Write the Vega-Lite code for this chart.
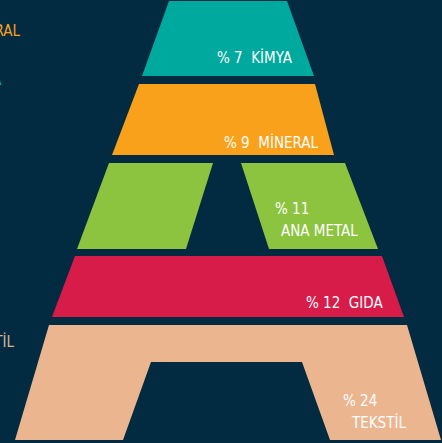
{
  "$schema": "https://vega.github.io/schema/vega-lite/v6.json",
  "width": 442,
  "height": 443,
  "autosize": "none",
  "padding": 0,
  "background": "#022b41",
  "config": {"view": {"stroke": null}},
  "resolve": {"scale": {"color": "independent"}},
  "datasets": {
    "shapes": [
      {"shape": "kimya", "o": 1, "x": 169, "y": 1},
      {"shape": "kimya", "o": 2, "x": 287, "y": 1},
      {"shape": "kimya", "o": 3, "x": 314, "y": 76},
      {"shape": "kimya", "o": 4, "x": 142, "y": 76},
      {"shape": "mineral", "o": 1, "x": 139, "y": 84},
      {"shape": "mineral", "o": 2, "x": 315, "y": 84},
      {"shape": "mineral", "o": 3, "x": 334, "y": 155},
      {"shape": "mineral", "o": 4, "x": 112, "y": 155},
      {"shape": "metalL", "o": 1, "x": 109, "y": 163},
      {"shape": "metalL", "o": 2, "x": 213, "y": 163},
      {"shape": "metalL", "o": 3, "x": 186, "y": 249},
      {"shape": "metalL", "o": 4, "x": 77, "y": 249},
      {"shape": "metalR", "o": 1, "x": 241, "y": 163},
      {"shape": "metalR", "o": 2, "x": 345, "y": 163},
      {"shape": "metalR", "o": 3, "x": 378, "y": 249},
      {"shape": "metalR", "o": 4, "x": 269, "y": 249},
      {"shape": "gida", "o": 1, "x": 75, "y": 256},
      {"shape": "gida", "o": 2, "x": 382, "y": 256},
      {"shape": "gida", "o": 3, "x": 404, "y": 317},
      {"shape": "gida", "o": 4, "x": 52, "y": 317},
      {"shape": "tekstil", "o": 1, "x": 49, "y": 325},
      {"shape": "tekstil", "o": 2, "x": 407, "y": 325},
      {"shape": "tekstil", "o": 3, "x": 441, "y": 440},
      {"shape": "tekstil", "o": 4, "x": 330, "y": 440},
      {"shape": "tekstil", "o": 5, "x": 302, "y": 362},
      {"shape": "tekstil", "o": 6, "x": 151, "y": 362},
      {"shape": "tekstil", "o": 7, "x": 123, "y": 440},
      {"shape": "tekstil", "o": 8, "x": 15, "y": 440}
    ],
    "labels": [
      {"label": "% 7\u00a0 KİMYA", "x": 217, "y": 63, "c": "white"},
      {"label": "% 9\u00a0 MİNERAL", "x": 224, "y": 148, "c": "white"},
      {"label": "% 11", "x": 275, "y": 214, "c": "white"},
      {"label": "ANA METAL", "x": 281, "y": 236, "c": "white"},
      {"label": "% 12\u00a0 GIDA", "x": 306, "y": 308, "c": "white"},
      {"label": "% 24", "x": 343, "y": 406, "c": "white"},
      {"label": "TEKSTİL", "x": 352, "y": 428, "c": "white"}
    ],
    "edge": [
      {"label": "MİNERAL", "x": 20, "y": 36, "c": "orange"},
      {"label": "KİMYA", "x": 1.5, "y": 85, "c": "teal"},
      {"label": "TEKSTİL", "x": 14, "y": 347, "c": "tan"}
    ]
  },
  "layer": [
    {
      "data": {"name": "shapes"},
      "mark": {"type": "line", "filled": true, "interpolate": "linear-closed", "strokeWidth": 0},
      "encoding": {
        "x": {"field": "x", "type": "quantitative", "scale": {"domain": [0, 442], "nice": false, "zero": false}, "axis": null},
        "y": {"field": "y", "type": "quantitative", "scale": {"domain": [0, 443], "nice": false, "zero": false, "reverse": true}, "axis": null},
        "order": {"field": "o", "type": "quantitative"},
        "detail": {"field": "shape"},
        "color": {
          "field": "shape",
          "type": "nominal",
          "legend": null,
          "scale": {
            "domain": ["kimya", "mineral", "metalL", "metalR", "gida", "tekstil"],
            "range": ["#00a99d", "#f9a11b", "#8cc440", "#8cc440", "#d71c4a", "#ebb58f"]
          }
        }
      }
    },
    {
      "data": {"name": "labels"},
      "mark": {"type": "text", "font": "DejaVu Sans Condensed", "fontSize": 15, "baseline": "alphabetic", "align": "left", "color": "#ffffff"},
      "encoding": {
        "x": {"field": "x", "type": "quantitative"},
        "y": {"field": "y", "type": "quantitative"},
        "text": {"field": "label"}
      }
    },
    {
      "data": {"name": "edge"},
      "mark": {"type": "text", "font": "DejaVu Sans Condensed", "fontSize": 15, "baseline": "alphabetic", "align": "right"},
      "encoding": {
        "x": {"field": "x", "type": "quantitative"},
        "y": {"field": "y", "type": "quantitative"},
        "text": {"field": "label"},
        "color": {
          "field": "c",
          "type": "nominal",
          "legend": null,
          "scale": {"domain": ["orange", "teal", "tan"], "range": ["#f9a11b", "#00a99d", "#d9b595"]}
        }
      }
    }
  ]
}
